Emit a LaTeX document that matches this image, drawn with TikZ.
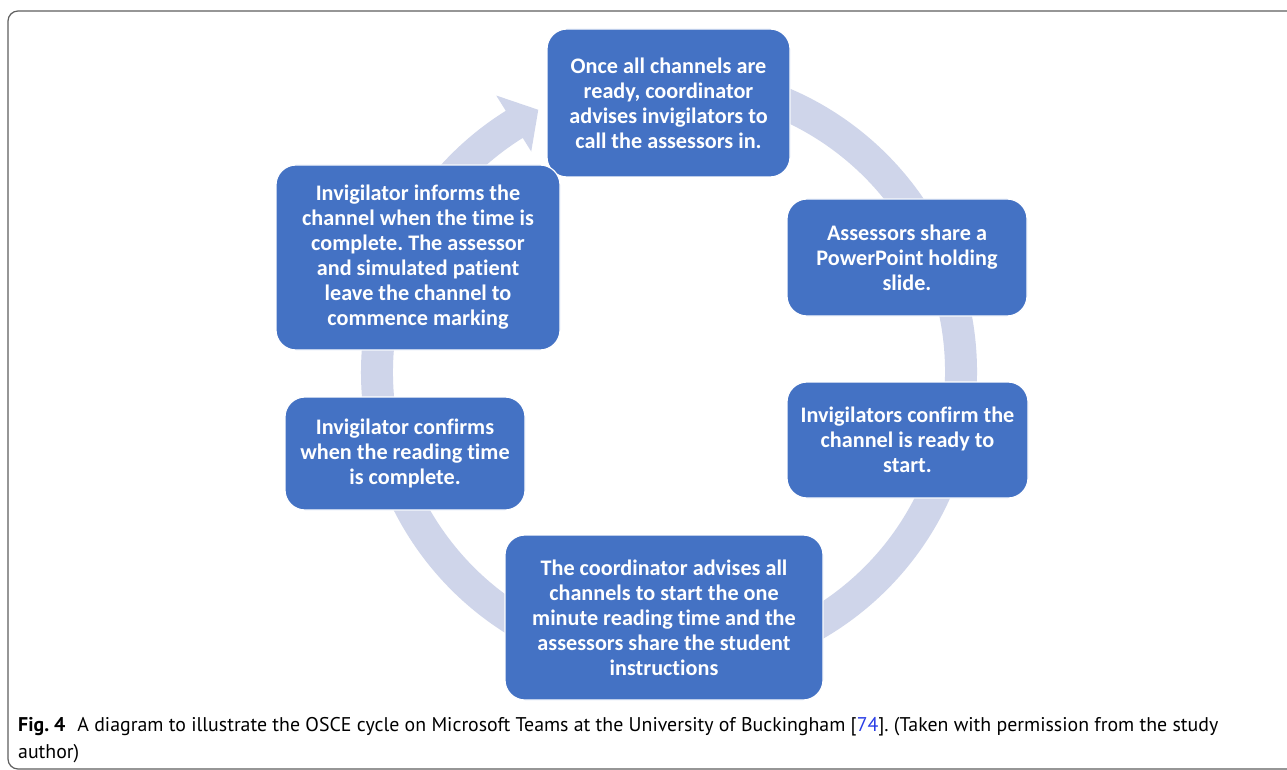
\documentclass[tikz,border=0pt]{standalone}
\usepackage{fontspec}
\setmainfont{Carlito}[Ligatures=NoCommon]
\newfontfamily\capfont{PT Sans}
\usetikzlibrary{calc}
\definecolor{boxblue}{RGB}{68,114,196}
\definecolor{ringcol}{RGB}{207,213,234}
\definecolor{linkblue}{RGB}{40,60,230}
\definecolor{framegray}{RGB}{95,95,95}
\frenchspacing
\begin{document}
\begin{tikzpicture}[x=1pt,y=-1pt,
  stepbox/.style={draw=white, line width=1.2pt, fill=boxblue, rounded corners=20pt,
    text=white, align=center, font=\bfseries\fontsize{22.2}{25}\selectfont, inner sep=0pt},
  captext/.style={anchor=base west, inner sep=0pt, font=\capfont\fontsize{19.85}{27}\selectfont}]
\useasboundingbox (0,0) rectangle (1287,770);
\clip (0,0) rectangle (1287,770);
\fill[white] (0,0) rectangle (1287,770);
\draw[framegray, line width=1.2pt, rounded corners=10pt] (8,11) rectangle (1310,769);
% ring with arrow
\coordinate (c) at (669,372);
\fill[ringcol] ($(c)+(-85:308)$) arc[start angle=-85,end angle=238,radius=308]
  -- ($(c)+(238:326)$) -- ($(c)+(243.5:293)$) -- ($(c)+(238:260)$)
  -- ($(c)+(238:276)$) arc[start angle=238,end angle=-85,radius=276] -- cycle;
% boxes
\node[stepbox, minimum width=243pt, minimum height=148pt] (t) at (668.5,103)
  {Once all channels are\\ready, coordinator\\advises invigilators to\\call the assessors in.};
\node[stepbox, minimum width=240pt, minimum height=117pt] (r1) at (907,257.5)
  {Assessors share a\\PowerPoint holding\\slide.};
\node[stepbox, minimum width=241pt, minimum height=116pt] (r2) at (907.5,440)
  {Invigilators confirm the\\channel is ready to\\start.};
\node[stepbox, minimum width=318pt, minimum height=165pt] (b) at (664,617.5)
  {The coordinator advises all\\channels to start the one\\minute reading time and the\\assessors share the student\\instructions};
\node[stepbox, minimum width=240pt, minimum height=113pt] (l2) at (405,453.5)
  {Invigilator confirms\\when the reading time\\is complete.};
\node[stepbox, minimum width=284pt, minimum height=185pt] (l1) at (418,257.5)
  {Invigilator informs the\\channel when the time is\\complete. The assessor\\and simulated patient\\leave the channel to\\commence marking};
% caption
\node[captext] (cap1) at (18,731)
  {\textbf{Fig. 4}\hspace{12pt}A diagram to illustrate the OSCE cycle on Microsoft Teams at the University of Buckingham [\textcolor{linkblue}{74}]. (Taken with permission from the study};
\node[captext] (cap2) at (18,758) {author)};
\end{tikzpicture}
\end{document}
